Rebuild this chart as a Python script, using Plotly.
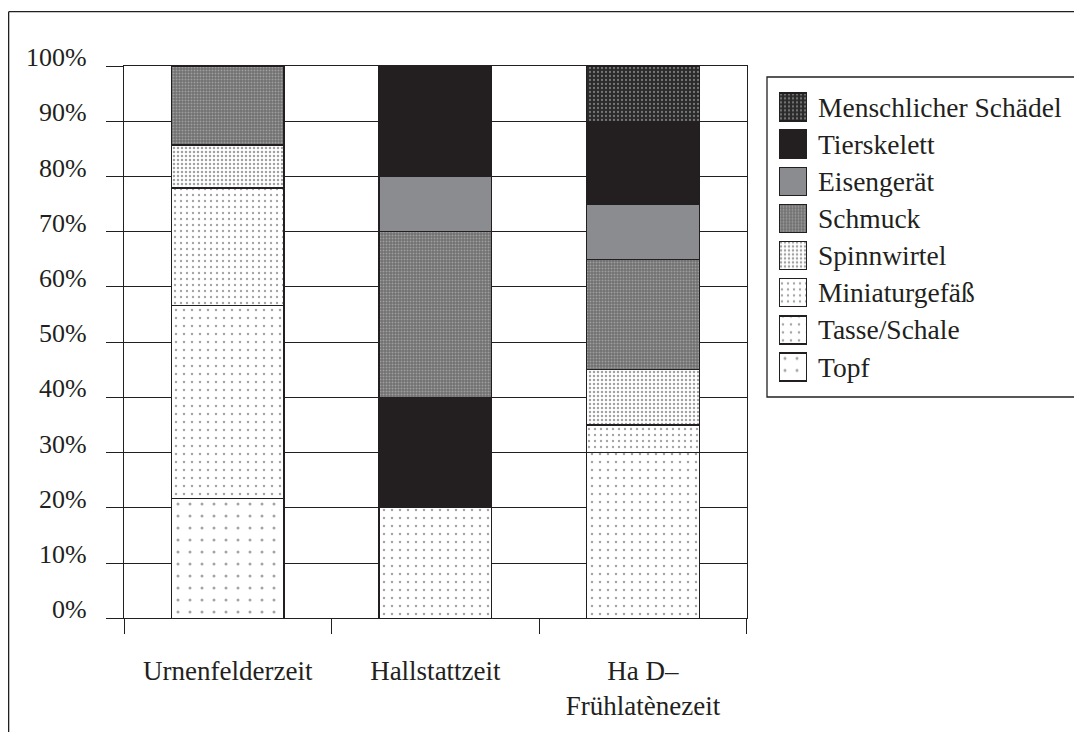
import plotly.graph_objects as go

# ---------------- data ----------------
periods = ["Urnenfelderzeit", "Hallstattzeit", "Ha D–<br>Frühlatènezeit"]

# stacked from bottom to top (percent)
topf = [21.7, None, None]
tasse_schale = [35.0, 20, 30]
tierskelett_unten = [None, 20, None]
miniaturgefaess = [21.2, None, 5]
spinnwirtel = [7.8, None, 10]
schmuck = [14.3, 30, 20]
eisengeraet = [None, 10, 10]
tierskelett = [None, 20, 15]
menschlicher_schaedel = [None, None, 10]

y_tick_values = [0, 10, 20, 30, 40, 50, 60, 70, 80, 90, 100]
y_tick_labels = ["0%", "10%", "20%", "30%", "40%", "50%", "60%", "70%", "80%", "90%", "100%"]

legend_names = ["Menschlicher Schädel", "Tierskelett", "Eisengerät", "Schmuck",
                "Spinnwirtel", "Miniaturgefäß", "Tasse/Schale", "Topf"]
legend_swatch = [1, 1, 1, 1, 1, 1, 1, 1]

# ---------------- styles ----------------
# the page body adds an 8px margin, so the figure is drawn 8px smaller and shifted
OFF = 8
W, H = 1082 - OFF, 732 - OFF
INK = "#231f20"
FONT = "Liberation Serif"


def px_x(p):
    return (p - OFF) / W


def px_y(p):
    return 1 - (p - OFF) / H


styles = {
    "Topf": dict(color="white", pattern=dict(shape=".", size=12, solidity=0.05,
                                             fgcolor="#4a4a4a", bgcolor="white")),
    "Tasse/Schale": dict(color="white", pattern=dict(shape=".", size=8, solidity=0.08,
                                                     fgcolor="#4a4a4a", bgcolor="white")),
    "Miniaturgefäß": dict(color="white", pattern=dict(shape=".", size=6, solidity=0.12,
                                                      fgcolor="#4a4a4a", bgcolor="white")),
    "Spinnwirtel": dict(color="white", pattern=dict(shape=".", size=4, solidity=0.3,
                                                    fgcolor="#444444", bgcolor="white")),
    "Schmuck": dict(color="#8e8e8e", pattern=dict(shape=".", size=3, solidity=0.35,
                                                  fgcolor="#cfcfcf", bgcolor="#6f6f6f")),
    "Eisengerät": dict(color="#8b8c8f"),
    "Tierskelett": dict(color=INK),
    "Menschlicher Schädel": dict(color="#4f4f4f", pattern=dict(shape=".", size=4, solidity=0.25,
                                                               fgcolor="#c4c4c4", bgcolor="#2a2a2a")),
}

stack = [
    ("Topf", topf),
    ("Tasse/Schale", tasse_schale),
    ("Tierskelett", tierskelett_unten),
    ("Miniaturgefäß", miniaturgefaess),
    ("Spinnwirtel", spinnwirtel),
    ("Schmuck", schmuck),
    ("Eisengerät", eisengeraet),
    ("Tierskelett", tierskelett),
    ("Menschlicher Schädel", menschlicher_schaedel),
]

fig = go.Figure()

for name, vals in stack:
    fig.add_trace(go.Bar(
        x=periods, y=vals, name=name, showlegend=False,
        marker=dict(**styles[name], line=dict(color=INK, width=1.3)),
        hoverinfo="name+y",
    ))

# legend drawn as small bar chart on its own axes
for name, v in zip(legend_names, legend_swatch):
    fig.add_trace(go.Bar(
        x=[v], y=[name], orientation="h", xaxis="x2", yaxis="y2",
        width=0.754, showlegend=False, hoverinfo="skip",
        marker=dict(**styles[name], line=dict(color=INK, width=1.3)),
    ))

line_style = dict(color=INK, width=1.3)

fig.update_layout(
    width=W, height=H,
    margin=dict(l=0, r=0, t=0, b=0),
    paper_bgcolor="white", plot_bgcolor="white",
    barmode="stack", bargap=0.457,
    showlegend=False,
    font=dict(family=FONT, color=INK, size=26),
    xaxis=dict(
        domain=[px_x(124), px_x(746.7)],
        type="category", tickson="boundaries",
        ticks="outside", ticklen=15, tickwidth=1.3, tickcolor=INK,
        showline=True, mirror=True, linecolor=INK, linewidth=1.3,
        showgrid=False, zeroline=False, automargin=False,
        tickfont=dict(family=FONT, size=27, color=INK),
        ticklabelstandoff=28,
    ),
    yaxis=dict(
        domain=[px_y(618.3), px_y(66)],
        range=[0, 100],
        tickvals=y_tick_values, ticktext=y_tick_labels,
        ticks="outside", ticklen=17, tickwidth=1.3, tickcolor=INK,
        showline=True, mirror=True, linecolor=INK, linewidth=1.3,
        showgrid=True, gridcolor=INK, gridwidth=1.3,
        zeroline=False, automargin=False,
        tickfont=dict(family=FONT, size=26, color=INK),
        ticklabelstandoff=14, ticklabelshift=-9,
    ),
    xaxis2=dict(
        domain=[px_x(779), px_x(807)], range=[0, 1], anchor="y2",
        visible=False, fixedrange=True,
    ),
    yaxis2=dict(
        domain=[px_y(385.6), px_y(88.4)], anchor="x2",
        type="category", categoryarray=legend_names, autorange="reversed",
        side="right", showgrid=False, showline=False, zeroline=False,
        ticks="", automargin=False, fixedrange=True,
        tickfont=dict(family=FONT, size=27.5, color=INK),
        ticklabelstandoff=10,
    ),
    shapes=[
        # outer frame (top and left edges)
        dict(type="line", xref="paper", yref="paper",
             x0=0.65 / W, x1=1.0, y0=px_y(11.7), y1=px_y(11.7), line=line_style),
        dict(type="line", xref="paper", yref="paper",
             x0=0.65 / W, x1=0.65 / W, y0=px_y(11.7), y1=0.0, line=line_style),
        # legend box
        dict(type="rect", xref="paper", yref="paper",
             x0=px_x(767), x1=px_x(1078), y0=px_y(397), y1=px_y(77),
             line=line_style, fillcolor="rgba(0,0,0,0)", layer="below"),
    ],
)

fig.write_html("out.html")
